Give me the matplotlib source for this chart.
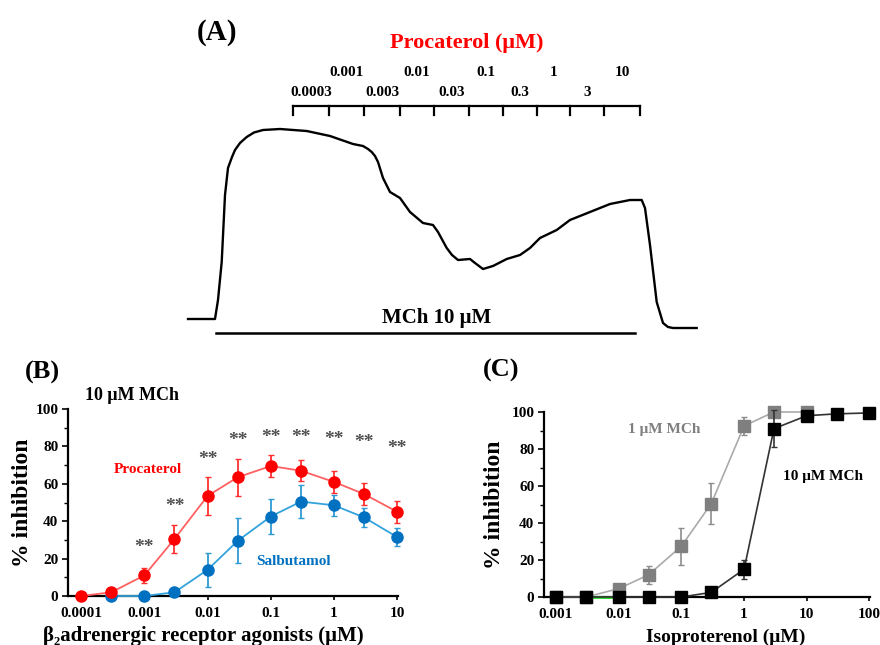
import matplotlib
matplotlib.use("Agg")
import matplotlib.pyplot as plt
from matplotlib.ticker import FixedLocator, MultipleLocator, NullLocator

SERIF = ['Liberation Serif', 'DejaVu Serif']
plt.rcParams['font.family'] = SERIF
plt.rcParams['font.weight'] = 'bold'

# ---- panel A: tension trace (time, tension in arbitrary units)
trace_t = [0, 27, 30, 33.7, 37, 40, 44, 47, 52, 58.7, 66, 75, 92, 118.7, 142,
           165, 175, 180, 183.7, 187, 190, 195, 202, 212, 222, 235, 245, 250,
           258.7, 264, 270, 282, 287, 295, 305, 318.7, 332, 342, 352, 368.7,
           382, 402, 422, 442, 453.7, 457, 462, 468.7, 475, 480, 485, 508.7]
trace_y = [11, 11, 30, 68, 135, 162, 173, 180, 187, 193, 197.5, 200, 201, 199,
           194, 186, 184, 181, 178, 174, 168, 152, 138, 132, 118, 107, 105, 98,
           82, 75, 70, 71, 67, 61, 64, 71, 75, 82, 92, 100,
           110, 118, 126, 130, 130, 122, 85, 28, 7, 3, 2, 2]
addition_t = [105, 141, 176, 212, 246, 281, 315, 349, 382, 416, 452]
conc_labels = ['0.0003', '0.001', '0.003', '0.01', '0.03', '0.1', '0.3', '1', '3', '10']
mch_start, mch_end = 28, 447

# ---- panel B
conc_b = [0.0001, 0.0003, 0.001, 0.003, 0.01, 0.03, 0.1, 0.3, 1, 3, 10]
proc = [0, 2, 11, 30.5, 53.5, 63.5, 69.5, 67, 61, 54.5, 45]
proc_err = [0, 1, 4, 7.5, 10, 10, 6, 5.5, 6, 6, 6]
conc_salb = [0.0003, 0.001, 0.003, 0.01, 0.03, 0.1, 0.3, 1, 3, 10]
salb = [0, 0, 2, 14, 29.5, 42.5, 50.5, 48.5, 42, 31.5]
salb_err = [0, 0, 1, 9, 12, 9.5, 9, 5.5, 5, 5]
star_x = [0.001, 0.003, 0.01, 0.03, 0.1, 0.3, 1, 3, 10]
star_y = [26, 48, 73, 83, 85, 85, 83.5, 82, 79]

# ---- panel C
conc_c = [0.001, 0.003, 0.01, 0.03, 0.1, 0.3, 1, 3, 10, 30, 100]
mch1 = [0, 0, 4.5, 12, 27.5, 50.5, 92.5, 100, 100]
mch1_err = [0, 0, 1, 5, 10, 11, 5, 0, 0]
mch10 = [0, 0, 0, 0, 0, 2.5, 15, 91, 98, 99, 99.5]
mch10_err = [0, 0, 0, 0, 0, 0.5, 5, 10, 0, 0, 0]
green_x = [0.003, 0.01]
green_y = [0, 0]

W, H = 880, 645
fig = plt.figure(figsize=(8.8, 6.45), dpi=100)

# ================= (A) =================
axA = fig.add_axes([188 / W, 1 - 330 / H, 509 / W, 200 / H])
axA.set_xlim(0, 509)
axA.set_ylim(0, 200)
axA.axis('off')
axA.plot(trace_t, trace_y, color='black', lw=1.7, solid_joinstyle='round',
         clip_on=False)
axA.plot([addition_t[0], addition_t[-1]], [224, 224], color='black', lw=1.6,
         clip_on=False)
for t in addition_t:
    axA.plot([t, t], [224, 215], color='black', lw=1.6, clip_on=False)
for i, lab in enumerate(conc_labels):
    mid = (addition_t[i] + addition_t[i + 1]) / 2
    ty = 238 if i % 2 == 0 else 258
    axA.text(mid, ty, lab, ha='center', va='center', fontsize=11,
             fontweight='bold')
axA.text(279, 287, 'Procaterol (μM)', color='#FF0000', ha='center',
         va='center', fontsize=16, fontweight='bold')
axA.plot([mch_start, mch_end], [-3, -3], color='black', lw=1.8, clip_on=False)
axA.text(249, 12, 'MCh 10 μM', ha='center', va='center', fontsize=15,
         fontweight='bold')
fig.text(217 / W, 1 - 33 / H, '(A)', ha='center', va='center', fontsize=21,
         fontweight='bold')


def style_axis(ax):
    ax.spines['top'].set_visible(False)
    ax.spines['right'].set_visible(False)
    ax.spines['left'].set_linewidth(1.6)
    ax.spines['bottom'].set_linewidth(1.6)
    ax.set_xscale('log')
    ax.set_ylim(0, 100)
    ax.yaxis.set_major_locator(MultipleLocator(20))
    ax.yaxis.set_minor_locator(MultipleLocator(10))
    ax.xaxis.set_minor_locator(NullLocator())
    ax.tick_params(axis='y', which='major', length=4, width=1.2, labelsize=11,
                   pad=3)
    ax.tick_params(axis='y', which='minor', length=3, width=1.0)
    ax.tick_params(axis='x', which='major', length=3, width=1.2, labelsize=11,
                   pad=5)
    for lab in ax.get_xticklabels() + ax.get_yticklabels():
        lab.set_fontweight('bold')


def fmt(v):
    return ('%g' % v) if v >= 1 else ('%.10f' % v).rstrip('0')


# ================= (B) =================
axB = fig.add_axes([68 / W, 1 - 596 / H, 330 / W, 187 / H])
style_axis(axB)
axB.set_xlim(6.2e-5, 10.3)
axB.xaxis.set_major_locator(FixedLocator(conc_b[::2]))
axB.set_xticklabels([fmt(v) for v in conc_b[::2]], fontweight='bold')
axB.errorbar(conc_salb, salb, yerr=salb_err, color='#33A3DC', ecolor='#2E9AD6',
             elinewidth=1.3, capsize=2.5, lw=1.3, marker='o', ms=8,
             mfc='#0070C0', mec='#0070C0', clip_on=False, zorder=3)
axB.errorbar(conc_b, proc, yerr=proc_err, color='#FF6060', ecolor='#FF3030',
             elinewidth=1.3, capsize=2.5, lw=1.3, marker='o', ms=8,
             mfc='#FF0000', mec='#FF0000', clip_on=False, zorder=4)
for sx, sy in zip(star_x, star_y):
    axB.text(sx, sy, '**', ha='center', va='center', fontsize=14,
             color='#505050', fontweight='bold')
axB.text(1.15e-3, 67.4, 'Procaterol', color='#FF0000', ha='center',
         va='center', fontsize=11, fontweight='bold')
axB.text(0.2265, 18.2, 'Salbutamol', color='#0070C0', ha='center',
         va='center', fontsize=11, fontweight='bold')
axB.text(6.4e-4, 107, '10 μM MCh', ha='center', va='center', fontsize=13,
         fontweight='bold')
axB.set_ylabel('% inhibition', fontsize=17, fontweight='bold', va='center')
axB.yaxis.set_label_coords(-0.139, 0.5)
axB.set_xlabel('β₂adrenergic receptor agonists (μM)', fontsize=15,
               fontweight='bold', va='center')
axB.xaxis.set_label_coords(0.41, -0.212)
fig.text(42 / W, 1 - 372 / H, '(B)', ha='center', va='center', fontsize=19,
         fontweight='bold')

# ================= (C) =================
axC = fig.add_axes([544 / W, 1 - 597 / H, 326 / W, 185 / H])
style_axis(axC)
axC.set_xlim(6.43e-4, 102)
axC.xaxis.set_major_locator(FixedLocator(conc_c[::2]))
axC.set_xticklabels([fmt(v) for v in conc_c[::2]], fontweight='bold')
axC.errorbar(conc_c[:len(mch1)], mch1, yerr=mch1_err, color='#AAAAAA',
             ecolor='#8C8C8C', elinewidth=1.2, capsize=2.5, lw=1.2, marker='s',
             ms=8, mfc='#7F7F7F', mec='#7F7F7F', clip_on=False, zorder=3)
axC.plot(green_x, green_y, color='#22DD22', lw=2, clip_on=False, zorder=3.5)
axC.errorbar(conc_c, mch10, yerr=mch10_err, color='#333333', ecolor='#333333',
             elinewidth=1.2, capsize=2.5, lw=1.2, marker='s', ms=8,
             mfc='black', mec='black', clip_on=False, zorder=4)
axC.text(0.0535, 90.3, '1 μM MCh', color='#7F7F7F', ha='center', va='center',
         fontsize=11, fontweight='bold')
axC.text(18.0, 65.4, '10 μM MCh', color='black', ha='center', va='center',
         fontsize=11, fontweight='bold')
axC.set_ylabel('% inhibition', fontsize=17, fontweight='bold', va='center')
axC.yaxis.set_label_coords(-0.151, 0.5)
axC.set_xlabel('Isoproterenol (μM)', fontsize=14, fontweight='bold',
               va='center')
axC.xaxis.set_label_coords(0.557, -0.218)
fig.text(501 / W, 1 - 370 / H, '(C)', ha='center', va='center', fontsize=19,
         fontweight='bold')

fig.savefig('out.png', dpi=100)
